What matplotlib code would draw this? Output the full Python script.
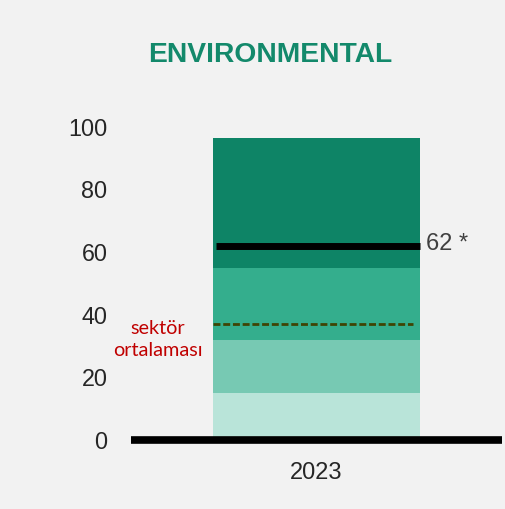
import matplotlib
matplotlib.use("Agg")
import matplotlib.pyplot as plt

# stacked band limits (bottom -> top)
band_bottoms = [0, 15, 32, 55]
band_tops = [15, 32, 55, 96.5]
band_colors = ["#b9e4d9", "#77c9b3", "#34ae8d", "#0e8466"]
year = "2023"
score = 62
sector_avg = 37
yticks = [0, 20, 40, 60, 80, 100]

fig = plt.figure(figsize=(5.05, 5.09), dpi=100, facecolor="#f2f2f2")
ax = fig.add_axes([131 / 505, 69 / 509, 371 / 505, 0.646])
ax.set_facecolor("#f2f2f2")

for b, t, c in zip(band_bottoms, band_tops, band_colors):
    ax.bar(0, t - b, bottom=b, width=1.0, color=c, zorder=1)

ax.set_xlim(-0.9, 0.9)
ax.set_ylim(0, 105)

# score line and sector average
ax.plot([-0.49, 0.5], [score, score], color="black", lw=5, solid_capstyle="butt", zorder=3)
ax.text(0.53, score + 0.5, f"{score} *", fontsize=17, color="#404040",
        family="Liberation Sans", va="center", ha="left")
ax.plot([-0.5, 0.47], [sector_avg, sector_avg], color="#3f4404", lw=2,
        linestyle=(0, (2.5, 1.0)), zorder=3)
ax.text(-0.77, sector_avg - 5, "sektör\nortalaması", fontsize=14.3, color="#c00000",
        family="Lato", ha="center", va="center", linespacing=1.35)

ax.axhline(0, color="black", lw=5.5, zorder=4, clip_on=False, solid_capstyle="butt")

for s in ax.spines.values():
    s.set_visible(False)
ax.set_yticks(yticks)
ax.set_yticklabels([str(v) for v in yticks], fontsize=16.8, color="#262626",
                   family="Liberation Sans")
ax.tick_params(axis="y", length=0, pad=17)
ax.set_xticks([0])
ax.set_xticklabels([year], fontsize=17, color="#262626", family="Liberation Sans")
ax.tick_params(axis="x", length=0, pad=16)

fig.text(270 / 505, 1 - 55 / 509, "ENVIRONMENTAL", fontsize=20.3, fontweight="bold",
         color="#13896b", family="Liberation Sans", ha="center", va="center")

fig.savefig("out.png", dpi=100, facecolor=fig.get_facecolor())
